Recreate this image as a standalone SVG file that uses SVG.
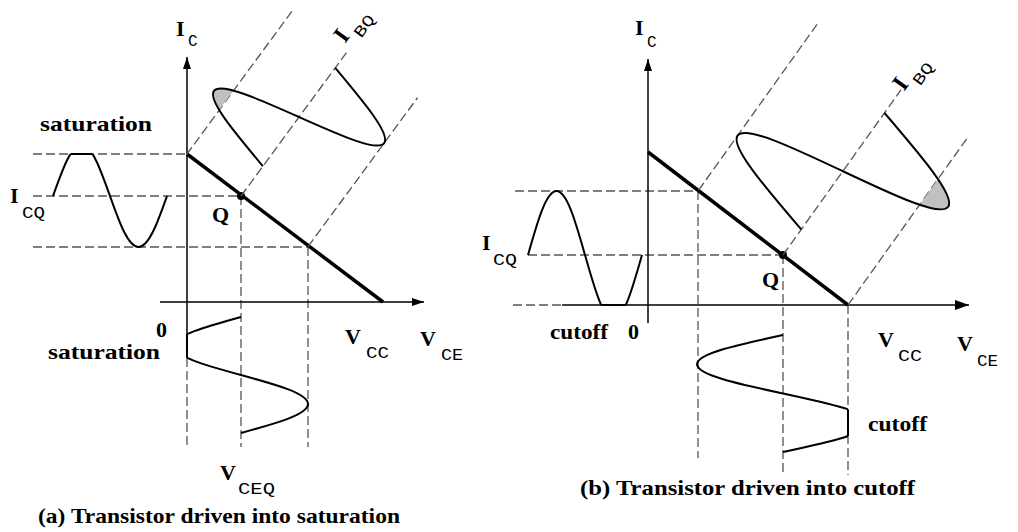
<svg xmlns="http://www.w3.org/2000/svg" width="1018" height="532" viewBox="0 0 1018 532">
<style>
.ax{stroke:#000;stroke-width:1.5;fill:none}
.ld{stroke:#000;stroke-width:3.5;fill:none;stroke-linecap:butt}
.ds{stroke:#555;stroke-width:1.3;fill:none;stroke-dasharray:9 4}
.wv{stroke:#000;stroke-width:2;fill:none}
.gf{fill:#c0c0c0;stroke:none}
.lb{font-family:"Liberation Serif","Times New Roman",serif;font-weight:bold;font-size:22px;fill:#000}
.big{font-size:24px}
.sb{font-family:"Liberation Mono","Courier New",monospace;font-size:16px;fill:#000}
</style>
<defs>
<marker id="ah" viewBox="0 0 12 8" refX="12" refY="4" markerWidth="12" markerHeight="8" markerUnits="userSpaceOnUse" orient="auto"><path d="M0,0 L12,4 L0,8 Z" fill="#000"/></marker>
<marker id="ahb" viewBox="0 0 14 10" refX="14" refY="5" markerWidth="14" markerHeight="10" markerUnits="userSpaceOnUse" orient="auto"><path d="M0,0 L14,5 L0,10 Z" fill="#000"/></marker>
<clipPath id="cAin"><rect x="0" y="154" width="300" height="200"/></clipPath>
<clipPath id="cAout"><rect x="187" y="300" width="200" height="200"/></clipPath>
<clipPath id="cBin"><rect x="500" y="100" width="200" height="205"/></clipPath>
<clipPath id="cBout"><rect x="600" y="300" width="248" height="200"/></clipPath>
<clipPath id="cAg" clipPathUnits="userSpaceOnUse"><rect x="0" y="-200" width="300" height="131.6"/></clipPath>
<clipPath id="cBg" clipPathUnits="userSpaceOnUse"><rect x="0" y="82" width="300" height="100"/></clipPath>
</defs>

<g id="diagram-a">
  <g id="a-dashed">
    <line class="ds" x1="33" y1="154" x2="187" y2="154"/>
    <line class="ds" x1="33" y1="196" x2="241" y2="196"/>
    <line class="ds" x1="33" y1="247" x2="308" y2="247"/>
    <line class="ds" x1="241" y1="196" x2="241" y2="447"/>
    <line class="ds" x1="308" y1="247" x2="308" y2="447"/>
    <line class="ds" x1="187" y1="358" x2="187" y2="447"/>
  </g>
  <g id="a-axes">
    <line class="ax" x1="187" y1="358" x2="187" y2="57" marker-end="url(#ah)"/>
    <line class="ax" x1="160" y1="302" x2="424" y2="302" marker-end="url(#ah)"/>
  </g>
  <g id="a-loadline">
    <line class="ld" x1="187" y1="154" x2="383" y2="302"/>
    <circle cx="241" cy="196" r="4" fill="#000"/>
  </g>
  <g id="a-input-wave">
    <path class="wv" clip-path="url(#cAin)" d="M53,196 C62.53,169.22 71.14,145 81.5,145 C91.86,145 100.47,169.22 110,196 C119.53,222.78 128.14,247 138.5,247 C148.86,247 157.47,222.78 167,196"/>
    <line class="wv" x1="70.5" y1="154" x2="92.5" y2="154"/>
  </g>
  <g id="a-output-wave">
    <path class="wv" clip-path="url(#cAout)" d="M241,317 C205.82,326.69 174,335.46 174,346 C174,356.54 205.82,365.31 241,375 C276.18,384.69 308,393.46 308,404 C308,414.54 276.18,423.31 241,433"/>
    <line class="wv" x1="187" y1="334.3" x2="187" y2="357.7"/>
  </g>
  <g id="a-base-wave" transform="matrix(0.5924,-0.8057,0.798,0.603,241,196)">
    <line class="ds" x1="0" y1="-68.4" x2="180" y2="-68.4"/>
    <line class="ds" x1="0" y1="0" x2="182" y2="0"/>
    <line class="ds" x1="0" y1="84" x2="185" y2="84"/>
    <path class="gf" clip-path="url(#cAg)" d="M37,0 C47.2,-44.1 56.42,-84 67.5,-84 C78.58,-84 87.8,-44.1 98,0 Z"/>
    <path class="wv" d="M37,0 C47.2,-44.1 56.42,-84 67.5,-84 C78.58,-84 87.8,-44.1 98,0 C108.2,44.1 117.42,84 128.5,84 C139.58,84 148.8,44.1 159,0"/>
  </g>
  <g id="a-labels">
    <text class="lb" x="176" y="36">I</text><text class="sb" x="188" y="46">C</text>
    <text class="lb" x="40" y="131" textLength="112" lengthAdjust="spacingAndGlyphs">saturation</text>
    <text class="lb" x="10" y="203">I</text><text class="sb" x="22" y="218" textLength="23" lengthAdjust="spacingAndGlyphs">CQ</text>
    <text class="lb" x="212" y="222">Q</text>
    <text class="lb" x="156" y="337">0</text>
    <text class="lb" x="48" y="359" textLength="112" lengthAdjust="spacingAndGlyphs">saturation</text>
    <text class="lb" x="345" y="344">V</text><text class="sb" x="366" y="358" textLength="23" lengthAdjust="spacingAndGlyphs">CC</text>
    <text class="lb" x="420" y="346">V</text><text class="sb" x="441" y="360" textLength="22" lengthAdjust="spacingAndGlyphs">CE</text>
    <text class="lb" x="220" y="480">V</text><text class="sb" x="238" y="494" textLength="37" lengthAdjust="spacingAndGlyphs">CEQ</text>
    <g transform="translate(345,44) rotate(-53.7)">
      <text class="lb big" x="0" y="0">I</text><text class="sb" x="14" y="10" textLength="24" lengthAdjust="spacingAndGlyphs">BQ</text>
    </g>
    <text class="lb" x="38" y="523" textLength="362" lengthAdjust="spacingAndGlyphs">(a) Transistor driven into saturation</text>
  </g>
</g>

<g id="diagram-b">
  <g id="b-dashed">
    <line class="ds" x1="515" y1="191" x2="698" y2="191"/>
    <line class="ds" x1="528" y1="255" x2="783" y2="255"/>
    <line class="ds" x1="513" y1="305" x2="562" y2="305"/>
    <line class="ds" x1="698" y1="191" x2="698" y2="458"/>
    <line class="ds" x1="783" y1="255" x2="783" y2="475"/>
    <line class="ds" x1="848" y1="305" x2="848" y2="475"/>
  </g>
  <g id="b-axes">
    <line class="ax" x1="648" y1="323" x2="648" y2="59" marker-end="url(#ah)"/>
    <line class="ax" x1="562" y1="305" x2="969" y2="305" marker-end="url(#ahb)"/>
  </g>
  <g id="b-loadline">
    <line class="ld" x1="648" y1="152" x2="848" y2="305"/>
    <circle cx="783" cy="255" r="4" fill="#000"/>
  </g>
  <g id="b-input-wave">
    <path class="wv" clip-path="url(#cBin)" d="M528,255 C537.53,221.39 546.14,191 556.5,191 C566.86,191 575.47,221.39 585,255 C594.53,288.61 603.14,319 613.5,319 C623.86,319 632.47,288.61 642,255"/>
    <line class="wv" x1="601.3" y1="305" x2="625.7" y2="305"/>
  </g>
  <g id="b-output-wave">
    <path class="wv" clip-path="url(#cBout)" d="M783,335 C737.84,344.78 697,353.62 697,364.25 C697,374.88 737.84,383.72 783,393.5 C828.16,403.28 869,412.12 869,422.75 C869,433.38 828.16,442.22 783,452"/>
    <line class="wv" x1="848" y1="409.5" x2="848" y2="436"/>
  </g>
  <g id="b-base-wave" transform="matrix(0.5812,-0.8137,0.794,0.608,783,255)">
    <line class="ds" x1="0" y1="-106.4" x2="208" y2="-106.4"/>
    <line class="ds" x1="0" y1="0" x2="203" y2="0"/>
    <line class="ds" x1="0" y1="82" x2="205" y2="82"/>
    <path class="gf" clip-path="url(#cBg)" d="M103,0 C114.97,55.87 125.79,106.4 138.8,106.4 C151.81,106.4 162.63,55.87 174.6,0 Z"/>
    <path class="wv" d="M31.4,0 C43.37,-55.87 54.19,-106.4 67.2,-106.4 C80.21,-106.4 91.03,-55.87 103,0 C114.97,55.87 125.79,106.4 138.8,106.4 C151.81,106.4 162.63,55.87 174.6,0"/>
  </g>
  <g id="b-labels">
    <text class="lb" x="635" y="35">I</text><text class="sb" x="647" y="47">C</text>
    <text class="lb" x="482" y="250">I</text><text class="sb" x="493" y="265" textLength="24" lengthAdjust="spacingAndGlyphs">CQ</text>
    <text class="lb" x="762" y="287">Q</text>
    <text class="lb" x="550" y="339" textLength="58" lengthAdjust="spacingAndGlyphs">cutoff</text>
    <text class="lb" x="628" y="339">0</text>
    <text class="lb" x="878" y="347">V</text><text class="sb" x="898" y="361" textLength="24" lengthAdjust="spacingAndGlyphs">CC</text>
    <text class="lb" x="957" y="351">V</text><text class="sb" x="977" y="366" textLength="21" lengthAdjust="spacingAndGlyphs">CE</text>
    <text class="lb" x="868" y="431" textLength="59" lengthAdjust="spacingAndGlyphs">cutoff</text>
    <g transform="translate(904,92) rotate(-54.5)">
      <text class="lb big" x="0" y="0">I</text><text class="sb" x="14" y="10" textLength="24" lengthAdjust="spacingAndGlyphs">BQ</text>
    </g>
    <text class="lb" x="580" y="495" textLength="335" lengthAdjust="spacingAndGlyphs">(b) Transistor driven into cutoff</text>
  </g>
</g>
</svg>
